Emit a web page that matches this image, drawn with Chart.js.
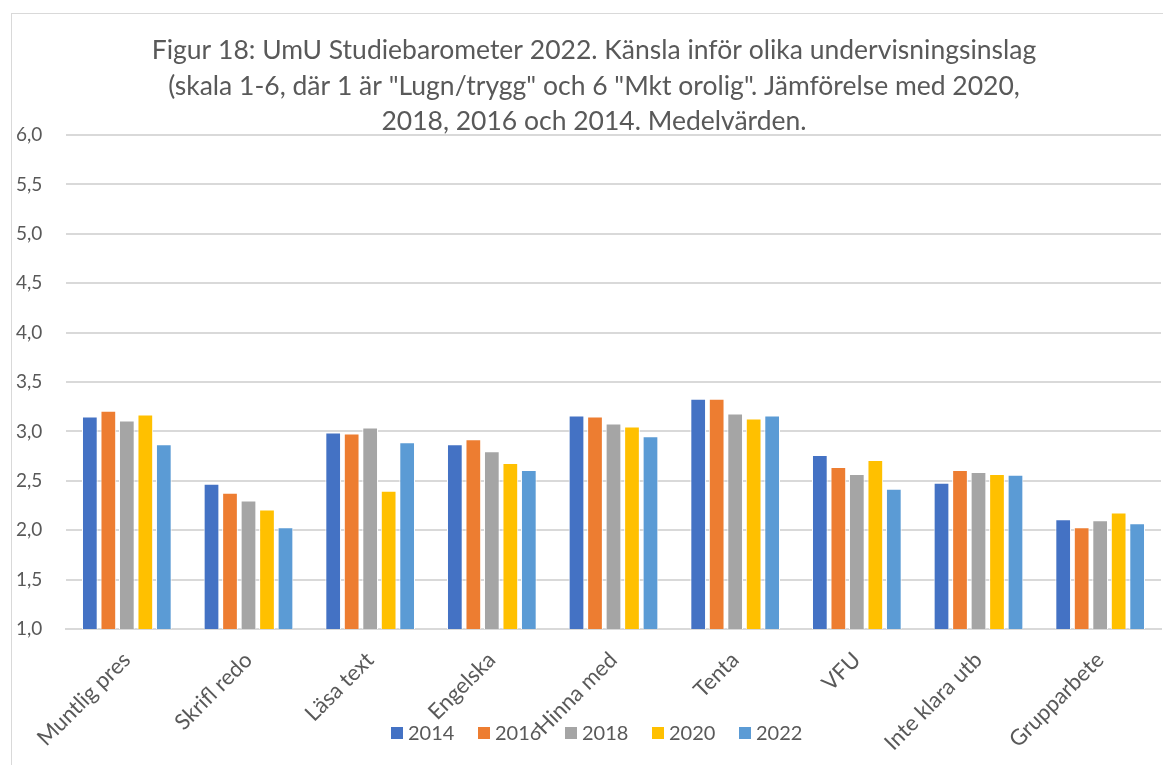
<!DOCTYPE html>
<html>
<head>
<meta charset="utf-8">
<script src="https://cdn.jsdelivr.net/npm/chart.js@4/dist/chart.umd.min.js"></script>
<style>
  html, body { margin: 0; padding: 0; background: #fff; overflow: hidden; }
  #wrap { position: absolute; left: 0; top: 0; width: 1163px; height: 765px; }
  #frame { position: absolute; left: 11px; top: 13px; width: 1200px; height: 800px; border: 1px solid #d9d9d9; }
</style>
</head>
<body>
<div id="frame"></div>
<div id="wrap"><canvas id="chart"></canvas></div>
<script>
const categories = ['Muntlig pres', 'Skrifl redo', 'Läsa text', 'Engelska', 'Hinna med', 'Tenta', 'VFU', 'Inte klara utb', 'Grupparbete'];
const years = ['2014', '2016', '2018', '2020', '2022'];
const v2014 = [3.15, 2.47, 2.99, 2.87, 3.16, 3.33, 2.76, 2.48, 2.11];
const v2016 = [3.21, 2.38, 2.98, 2.92, 3.15, 3.33, 2.64, 2.61, 2.03];
const v2018 = [3.11, 2.30, 3.04, 2.80, 3.08, 3.18, 2.57, 2.59, 2.10];
const v2020 = [3.17, 2.21, 2.40, 2.68, 3.05, 3.13, 2.71, 2.57, 2.18];
const v2022 = [2.87, 2.03, 2.89, 2.61, 2.95, 3.16, 2.42, 2.56, 2.07];
const titleLines = [
  'Figur 18: UmU Studiebarometer 2022. Känsla inför olika undervisningsinslag',
  '(skala 1-6, där 1 är "Lugn/trygg" och 6 "Mkt orolig". Jämförelse med 2020,',
  '2018, 2016 och 2014. Medelvärden.'
];

const COLORS = ['#4472C4', '#ED7D31', '#A5A5A5', '#FFC000', '#5B9BD5'];
const FONT = 'Lato, "Open Sans", sans-serif';
const TEXT = '#595959';

const series = [v2014, v2016, v2018, v2020, v2022];

// titel ritas över diagramytan, som i originalet
const titlePlugin = {
  id: 'bigTitle',
  afterDraw(chart) {
    const ctx = chart.ctx;
    ctx.save();
    ctx.font = '26.5px ' + FONT;
    ctx.fillStyle = TEXT;
    ctx.textAlign = 'center';
    ctx.textBaseline = 'middle';
    [50, 86, 121].forEach((y, i) => ctx.fillText(titleLines[i], 594, y));
    ctx.restore();
  }
};

// förklaringen ligger ovanpå kategorietiketterna (som i Excel), så den ritas här
const overlayLegend = {
  id: 'overlayLegend',
  afterDraw(chart) {
    const ctx = chart.ctx;
    const y = 733;
    ctx.save();
    ctx.font = '20px ' + FONT;
    ctx.textBaseline = 'middle';
    ctx.textAlign = 'left';
    chart.data.datasets.forEach((ds, i) => {
      const x = 391 + i * 87;
      ctx.fillStyle = ds.backgroundColor;
      ctx.fillRect(x, y - 6, 12, 12);
      ctx.fillStyle = TEXT;
      ctx.fillText(ds.label, x + 17, y + 1);
    });
    ctx.restore();
  }
};

new Chart(document.getElementById('chart'), {
  type: 'bar',
  data: {
    labels: categories,
    datasets: series.map((data, i) => ({
      label: years[i],
      data,
      backgroundColor: COLORS[i],
      borderColor: '#ffffff',
      borderWidth: { left: 1, right: 1, top: 1, bottom: 0 },
      barPercentage: 0.85,
      categoryPercentage: 0.76,
    })),
  },
  options: {
    responsive: true,
    maintainAspectRatio: false,
    animation: false,
    layout: { padding: { top: 135, left: 16, right: 2, bottom: 6 } },
    plugins: {
      title: { display: false },
      tooltip: { enabled: false },
      legend: { display: false },
    },
    scales: {
      x: {
        grid: { display: false },
        border: { display: true, color: '#d9d9d9', width: 2 },
        ticks: {
          color: TEXT,
          font: { family: FONT, size: 22 },
          maxRotation: 45,
          minRotation: 45,
          padding: 10,
        },
        afterFit: (scale) => { scale.height = 130; },
      },
      y: {
        min: 1,
        max: 6,
        border: { display: false },
        grid: { color: '#d9d9d9', lineWidth: 2, drawTicks: false },
        ticks: {
          stepSize: 0.5,
          color: TEXT,
          crossAlign: 'far',
          padding: 6,
          font: { family: FONT, size: 19 },
          callback: (v) => v.toFixed(1).replace('.', ','),
        },
        afterFit: (scale) => { scale.width = 50; },
      },
    },
  },
  plugins: [titlePlugin, overlayLegend],
});
</script>
</body>
</html>
